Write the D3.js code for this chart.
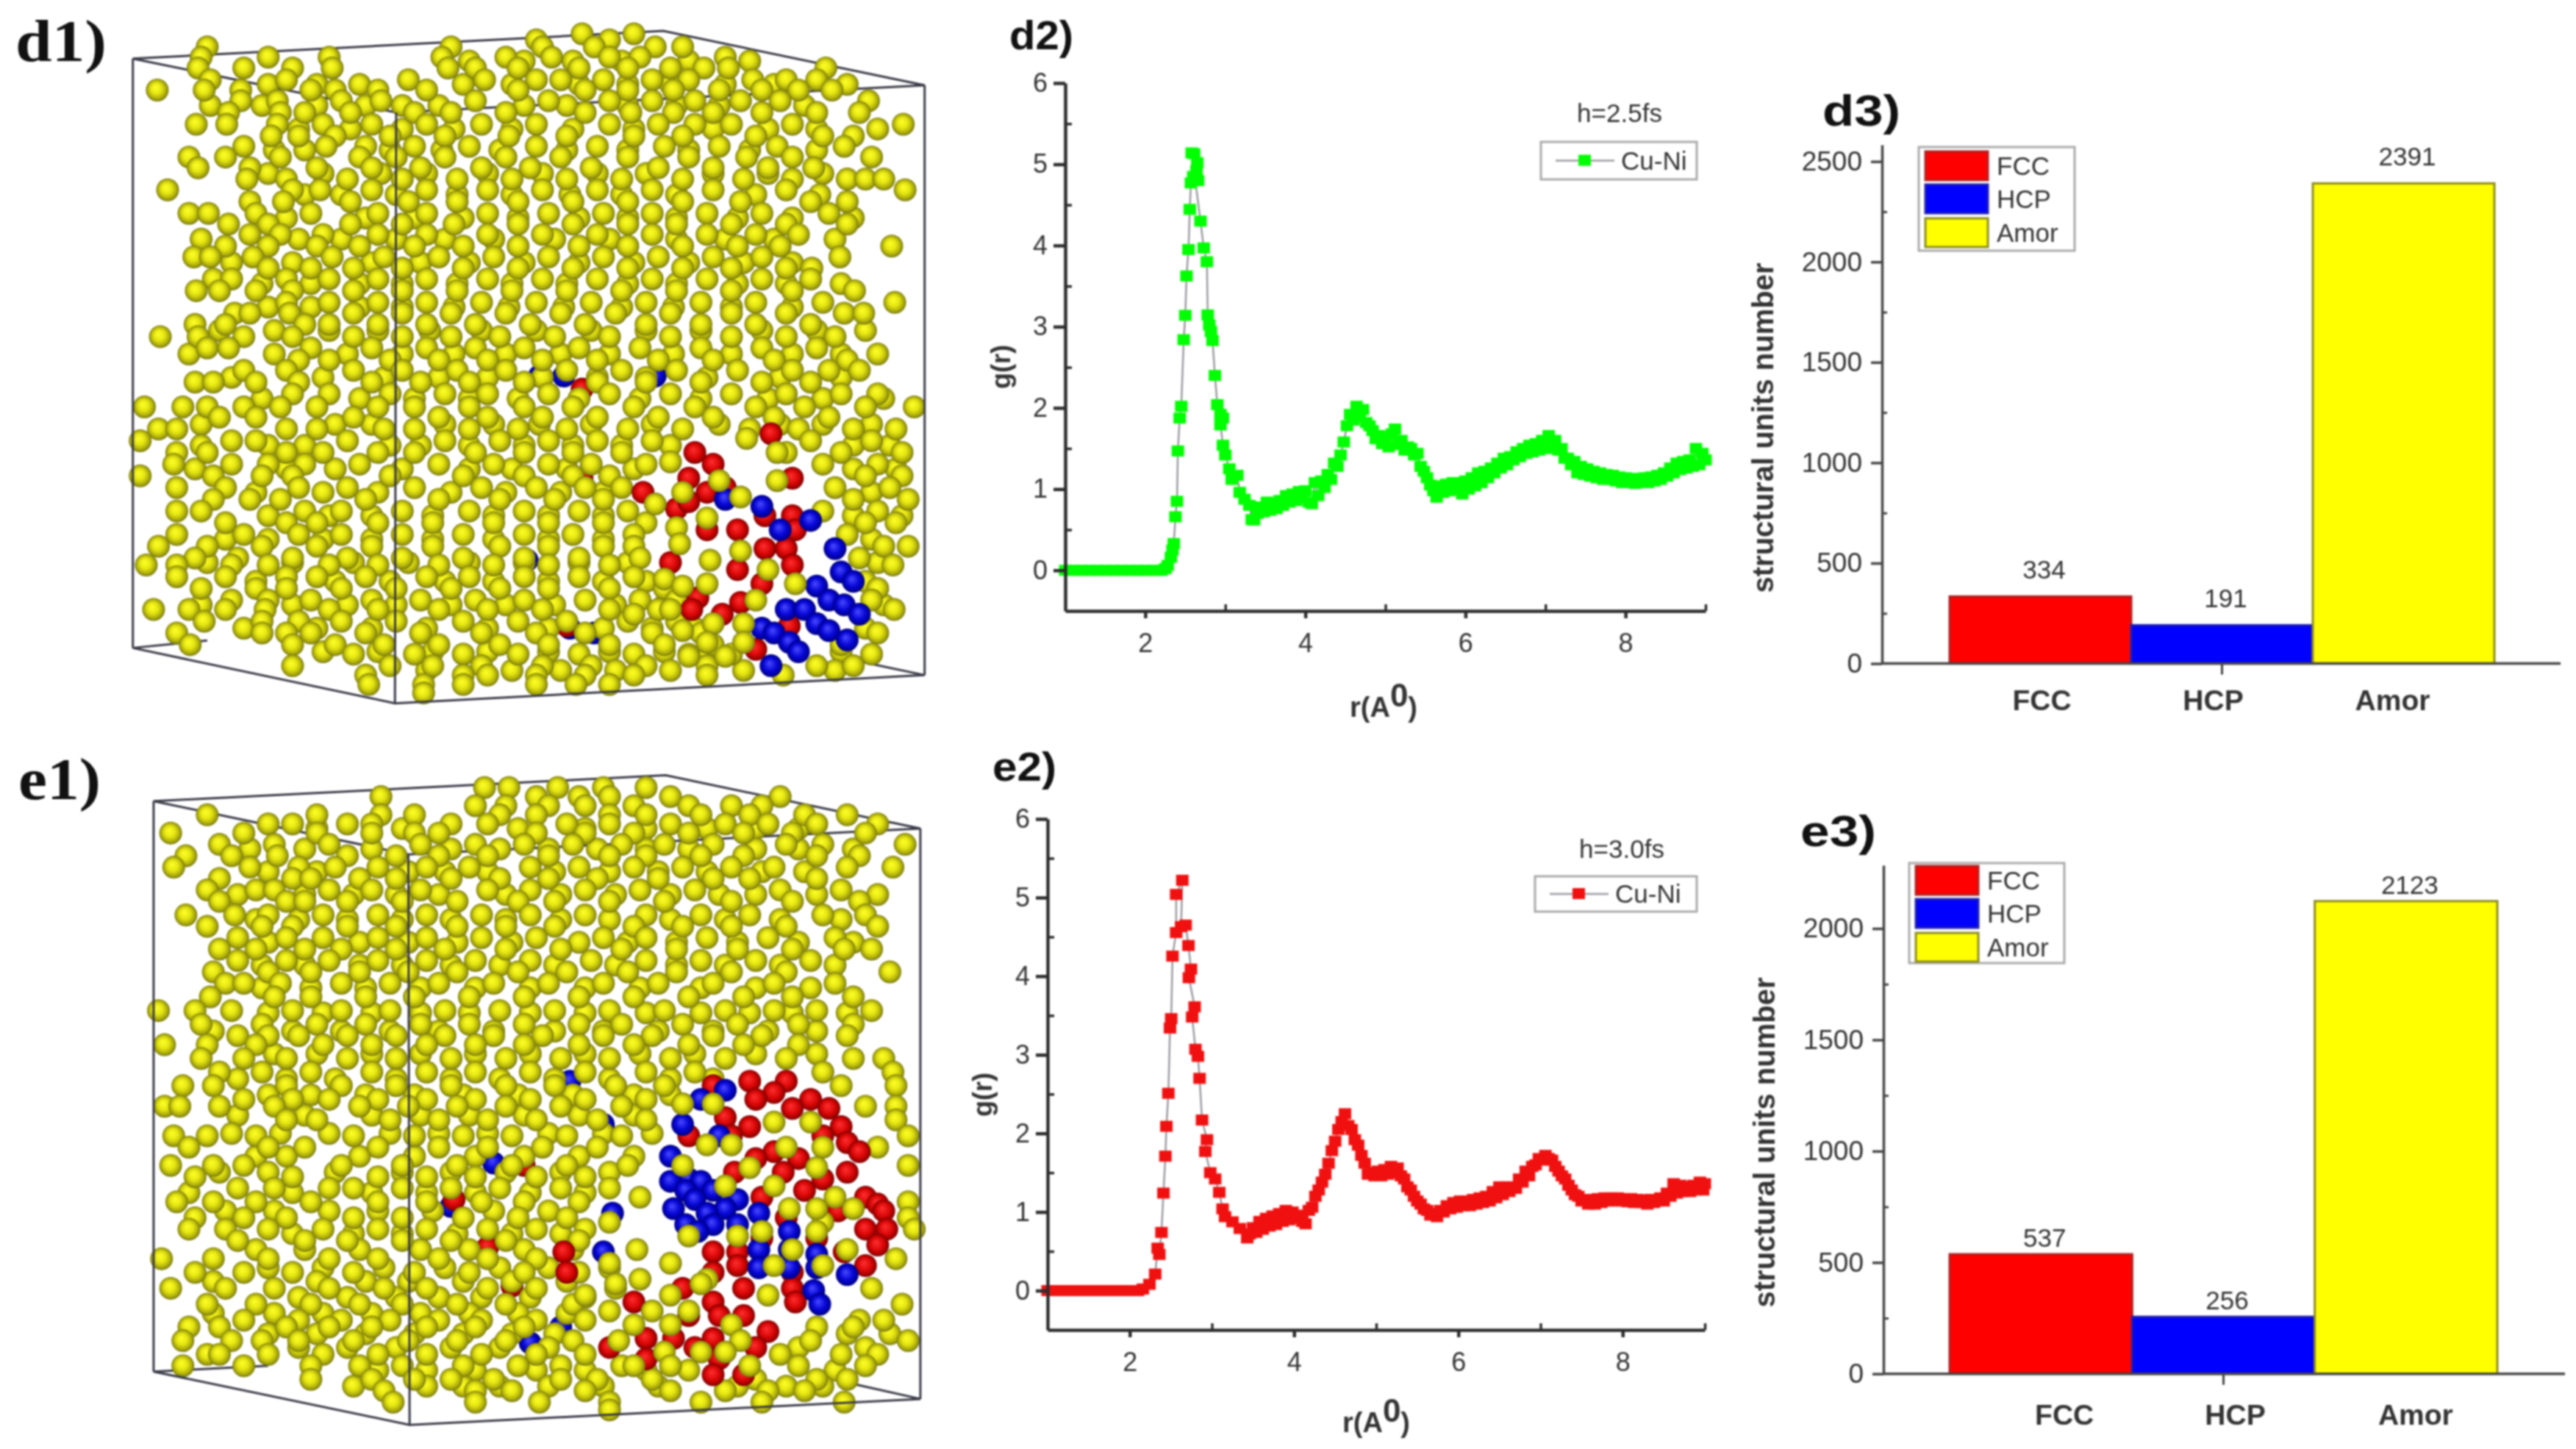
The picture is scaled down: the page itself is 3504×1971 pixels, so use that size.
<!DOCTYPE html>
<html>

<head>
    <style type="text/css">
        body { margin: 0; background: #fff; }
        svg { display: block; filter: blur(0.9px); }
        text { font-family: "Liberation Sans", Arial, sans-serif; fill: #333; }
    </style>
</head>

<body>
    <div id="canvas"></div>

    <script type="text/javascript" src="https://cdnjs.cloudflare.com/ajax/libs/d3/7.8.5/d3.min.js"></script>
    <script type="text/javascript">
        // bar panels
        var categories = ['FCC', 'HCP', 'Amor'];
        var countsD3 = [334, 191, 2391];
        var countsE3 = [537, 256, 2123];
        var barColors = ['#ff0000', '#0000ff', '#ffff00'];
        var barStrokes = ['#b02020', '#2020b0', '#8c8c20'];

        // g(r) panels, [r, g]
        var grD2 = [[1,0],[1.1,0],[1.2,0],[1.3,0],[1.4,0],[1.5,0],[1.6,0],[1.7,0],[1.8,0],[1.9,0],[2,0],[2.1,0],[2.2,0],[2.25,.02],[2.28,.06],[2.32,.16],[2.34,.25],[2.356,.33],[2.377,.66],[2.396,.85],[2.407,1.47],[2.43,1.875],[2.45,2.02],[2.48,2.84],[2.5,3.14],[2.515,3.625],[2.54,3.95],[2.556,4.445],[2.57,4.77],[2.6,4.85],[2.62,4.83],[2.66,4.8],[2.64,4.92],[2.65,5.02],[2.61,5.13],[2.58,5.14],[2.69,4.3],[2.73,3.97],[2.77,3.8],[2.78,3.145],[2.8,3.02],[2.82,2.94],[2.84,2.83],[2.87,2.4],[2.9,2.04],[2.94,1.92],[2.97,1.875],[2.94,1.79],[2.97,1.54],[3,1.42],[3.05,1.25],[3.08,1.12],[3.15,1.17],[3.18,.96],[3.24,.875],[3.3,.8],[3.33,.625],[3.36,.62],[3.4,.7],[3.44,.78],[3.48,.72],[3.52,.84],[3.56,.74],[3.6,.82],[3.64,.76],[3.68,.86],[3.72,.8],[3.76,.92],[3.8,.84],[3.84,.94],[3.88,.86],[3.92,.97],[3.96,.9],[4,.98],[4.04,.84],[4.08,.82],[4.12,1.08],[4.16,.92],[4.2,1.1],[4.24,1.02],[4.28,1.18],[4.32,1.12],[4.36,1.32],[4.4,1.28],[4.44,1.42],[4.48,1.58],[4.52,1.78],[4.56,1.92],[4.6,1.85],[4.64,2.02],[4.68,1.9],[4.72,1.98],[4.76,1.82],[4.8,1.78],[4.84,1.72],[4.88,1.62],[4.92,1.66],[4.96,1.56],[5,1.64],[5.04,1.52],[5.08,1.68],[5.12,1.74],[5.16,1.55],[5.2,1.6],[5.24,1.48],[5.28,1.52],[5.32,1.5],[5.36,1.42],[5.4,1.44],[5.44,1.28],[5.48,1.22],[5.52,1.14],[5.56,1.05],[5.6,.98],[5.64,.9],[5.68,1.04],[5.72,.96],[5.76,1.06],[5.8,.98],[5.84,1.08],[5.88,1],[5.92,1.08],[5.96,.94],[6,1.1],[6.04,1],[6.08,1.14],[6.12,1.04],[6.16,1.2],[6.2,1.08],[6.24,1.22],[6.28,1.14],[6.32,1.26],[6.36,1.2],[6.4,1.32],[6.44,1.26],[6.48,1.38],[6.52,1.3],[6.56,1.4],[6.6,1.36],[6.64,1.46],[6.68,1.4],[6.72,1.5],[6.76,1.44],[6.8,1.54],[6.84,1.46],[6.88,1.56],[6.92,1.48],[6.96,1.6],[7,1.5],[7.04,1.66],[7.08,1.52],[7.12,1.6],[7.16,1.48],[7.2,1.5],[7.24,1.38],[7.28,1.38],[7.32,1.3],[7.36,1.34],[7.4,1.2],[7.44,1.28],[7.48,1.18],[7.52,1.25],[7.56,1.16],[7.6,1.22],[7.64,1.14],[7.68,1.2],[7.72,1.12],[7.76,1.18],[7.8,1.12],[7.84,1.17],[7.88,1.1],[7.92,1.15],[7.96,1.08],[8,1.14],[8.04,1.08],[8.08,1.13],[8.12,1.07],[8.16,1.13],[8.2,1.08],[8.24,1.14],[8.28,1.08],[8.32,1.15],[8.36,1.1],[8.4,1.17],[8.44,1.12],[8.48,1.2],[8.52,1.16],[8.56,1.26],[8.6,1.2],[8.64,1.32],[8.68,1.24],[8.72,1.34],[8.76,1.26],[8.8,1.36],[8.84,1.28],[8.88,1.5],[8.92,1.3],[8.96,1.44],[9,1.36]];
        var grE2 = [[1,0],[1.1,0],[1.2,0],[1.3,0],[1.4,0],[1.5,0],[1.6,0],[1.7,0],[1.8,0],[1.9,0],[2,0],[2.1,0],[2.16,.02],[2.24,.08],[2.31,.21],[2.34,.54],[2.36,.46],[2.386,.74],[2.41,1.24],[2.434,1.71],[2.446,2.09],[2.47,2.51],[2.49,3.34],[2.505,3.46],[2.52,4.255],[2.565,4.555],[2.565,5.04],[2.64,5.22],[2.625,4.63],[2.68,4.65],[2.715,4.39],[2.745,4.09],[2.72,3.98],[2.79,3.61],[2.76,3.48],[2.8,3.07],[2.83,2.98],[2.85,2.7],[2.88,2.17],[2.94,1.92],[2.92,1.77],[2.98,1.5],[3.04,1.42],[3.09,1.25],[3.13,1.04],[3.16,.94],[3.25,.875],[3.34,.79],[3.43,.67],[3.46,.72],[3.5,.8],[3.54,.74],[3.58,.88],[3.62,.78],[3.66,.92],[3.7,.82],[3.74,.95],[3.78,.84],[3.82,.98],[3.86,.88],[3.9,1.02],[3.94,.9],[3.98,1],[4.02,.92],[4.06,.96],[4.1,.88],[4.14,.85],[4.18,1.02],[4.22,1.06],[4.26,1.2],[4.3,1.28],[4.34,1.38],[4.38,1.48],[4.42,1.62],[4.46,1.78],[4.5,1.9],[4.54,2.05],[4.58,2.15],[4.62,2.25],[4.66,2.1],[4.7,2.05],[4.74,1.92],[4.78,1.85],[4.82,1.72],[4.86,1.62],[4.9,1.48],[4.94,1.5],[4.98,1.46],[5.02,1.52],[5.06,1.46],[5.1,1.54],[5.14,1.48],[5.18,1.58],[5.22,1.5],[5.26,1.56],[5.3,1.46],[5.34,1.42],[5.38,1.32],[5.42,1.28],[5.46,1.2],[5.5,1.14],[5.54,1.1],[5.58,1.04],[5.62,1.02],[5.66,.96],[5.7,.98],[5.74,.94],[5.78,1.02],[5.82,1],[5.86,1.08],[5.9,1.04],[5.94,1.12],[5.98,1.06],[6.02,1.14],[6.06,1.08],[6.1,1.14],[6.14,1.08],[6.18,1.16],[6.22,1.1],[6.26,1.18],[6.3,1.12],[6.34,1.2],[6.38,1.14],[6.42,1.26],[6.46,1.18],[6.5,1.32],[6.54,1.22],[6.58,1.32],[6.62,1.26],[6.66,1.32],[6.7,1.3],[6.74,1.42],[6.78,1.38],[6.82,1.52],[6.86,1.46],[6.9,1.58],[6.94,1.6],[6.98,1.68],[7.02,1.66],[7.06,1.72],[7.1,1.68],[7.14,1.66],[7.18,1.58],[7.22,1.52],[7.26,1.46],[7.3,1.42],[7.34,1.34],[7.38,1.28],[7.42,1.22],[7.46,1.2],[7.5,1.14],[7.54,1.16],[7.58,1.1],[7.62,1.16],[7.66,1.1],[7.7,1.17],[7.74,1.12],[7.78,1.18],[7.82,1.14],[7.86,1.18],[7.9,1.14],[7.94,1.18],[7.98,1.14],[8.02,1.17],[8.06,1.13],[8.1,1.17],[8.14,1.12],[8.18,1.16],[8.22,1.12],[8.26,1.15],[8.3,1.1],[8.34,1.16],[8.38,1.12],[8.42,1.14],[8.46,1.18],[8.5,1.14],[8.54,1.24],[8.58,1.2],[8.62,1.36],[8.66,1.24],[8.7,1.34],[8.74,1.26],[8.78,1.32],[8.82,1.26],[8.86,1.34],[8.9,1.28],[8.94,1.38],[8.98,1.28],[9,1.36]];

        var yTicksGr = [0, 1, 2, 3, 4, 5, 6];
        var yMinorGr = [0.5, 1.5, 2.5, 3.5, 4.5, 5.5];
        var xTicksGr = [2, 4, 6, 8];
        var xMinorGr = [3, 5, 7, 9];
        var yTicksD3 = [0, 500, 1000, 1500, 2000, 2500];
        var yMinorD3 = [250, 750, 1250, 1750, 2250];
        var yTicksE3 = [0, 500, 1000, 1500, 2000];
        var yMinorE3 = [250, 750, 1250, 1750];

        // atoms of the two snapshots: [row, x, x, ...] in crop units (0-1568)
        var yellowD1 = [
            [72,955,1040],[85,880,1000],[100,340,740,890,975,1075,1120],[122,330,440,540,725,830,905,1000,1050,1190],[145,325,400,480,545,735,780,850,950,1030,1100,1155,1195,1355],[170,345,470,670,795,880,920,990,1070,1130,1235,1290,1340],
            [192,258,335,395,510,550,620,700,850,960,1030,1105,1180,1250,1310,1365],[215,395,455,560,625,780,900,1000,1070,1140,1215,1280,1425],[240,375,460,500,575,680,740,830,960,1035,1105,1170,1250,1340,1410],[265,322,372,455,530,610,700,790,880,1000,1080,1140,1200,1300,1482],[290,445,490,550,640,730,835,930,1040,1120,1240,1350,1400],
            [312,400,535,600,680,770,880,980,1090,1180,1275,1385],[335,310,370,460,590,650,730,830,920,1030,1130,1225,1300,1430],[358,325,410,520,610,690,790,870,970,1080,1170,1260,1335],[382,405,470,570,660,750,840,930,1020,1120,1220,1300,1390,1420,1450],[405,275,480,525,610,700,800,890,980,1070,1170,1290,1485],
            [430,410,465,575,670,750,850,940,1030,1120,1215,1330,1390],[455,310,342,420,510,620,700,800,900,990,1070,1160,1250,1360],[478,375,440,575,660,745,850,940,1030,1110,1200,1290,1390],[500,410,460,530,620,700,800,890,980,1070,1160,1240,1310],[525,370,440,520,590,680,760,850,950,1030,1120,1210,1280,1463],
            [548,318,345,415,545,630,720,810,900,990,1080,1170,1250,1378],[572,440,510,580,660,760,850,940,1030,1120,1200,1290,1332],[595,350,380,470,540,620,700,800,890,980,1070,1160,1250,1330],[620,322,360,420,480,580,660,750,840,930,1020,1110,1200,1300,1402],[645,470,540,620,700,790,880,970,1060,1150,1240,1350,1468],
            [668,385,410,475,580,660,740,830,920,1010,1100,1200,1290,1385,1417],[692,320,370,500,540,620,700,780,870,960,1060,1150,1240,1330],[718,263,325,400,480,580,660,740,820,910,1000,1100,1200,1290,1370],[742,340,375,510,610,700,780,860,950,1050,1150,1250,1340],[768,490,540,640,720,800,890,980,1080,1170,1270,1390],
            [790,400,470,580,660,750,830,930,1020,1110,1210,1300,1360,1410],[815,320,350,420,490,610,690,770,860,980,1060,1150,1250,1330],[840,480,540,640,730,800,900,1000,1100,1200,1290,1380,1440],[868,237,300,340,400,460,520,620,680,770,860,940,1040,1140,1240,1320,1420,1500],[890,360,420,580,720,800,890,980,1080,1170,1270,1360],
            [915,260,290,470,520,630,680,770,850,930,1030,1120,1230,1310,1400,1470],[940,230,380,420,570,730,820,900,980,1070,1330,1430],[965,290,340,470,530,620,680,780,860,940,1020,1290,1380,1480],[990,285,380,440,500,590,720,810,900,970,1060,1350,1440],[1015,230,350,430,480,640,760,860,940,1000,1420,1480],
            [1040,290,370,490,570,680,790,880,960,1020,1370,1460],[1065,350,410,460,600,720,820,910,990,1400,1490],[1090,290,330,500,560,660,770,860,950,1030,1350,1440],[1115,370,470,520,620,710,810,900,990,1060,1420,1470],[1140,290,400,490,560,660,760,860,940,1040,1390],
            [1165,260,340,430,520,610,710,820,900,990,1040,1490,1450],[1190,320,390,480,570,660,760,860,950,1050,1410],[1205,240,290,380,440,540,620,720,810,900,1000,1465],[1230,290,370,470,520,600,700,770,860,950,1040],[1255,330,420,470,560,650,740,820,900,1000,1090,1440],
            [1280,380,440,510,610,690,780,860,960,1050,1110,1430],[1300,252,310,370,435,540,620,720,800,890,1000,1080,1467],[1325,335,430,490,560,650,760,850,930,1030,1110],[1350,290,430,470,510,600,690,790,880,960,1070,1150,1440],[1375,312,480,550,630,720,820,900,1000,1090,1170,1380],
            [1395,580,680,760,850,950,1040,1130,1200,1430],[1420,480,640,710,790,890,970,1060,1160,1340,1400],[1440,600,760,800,880,960,1040,1160,1285],[1460,605,695,760,880,945,1000],[1478,695]
        ];
        var yellowD1b = [
            [130,770,860,940,1020,1130,1230],[180,440,520,590,760,840,950,1030,1100,1190,1270,1390],[225,345,430,520,600,660,720,860,930,1030,1110,1180,1320],[275,490,575,660,745,840,940,1040,1170,1260,1340,1440],[320,450,500,640,725,820,930,1030,1130,1230,1340],
            [370,440,530,625,700,800,890,980,1060,1170,1260,1350],[415,500,560,650,750,840,935,1020,1110,1240,1345],[465,470,600,680,760,850,950,1030,1110,1210,1300,1400],[510,330,490,560,650,730,810,910,1000,1110,1190,1270,1370],[560,380,480,610,690,770,860,950,1040,1130,1220,1300],
            [605,430,510,590,660,750,840,930,1030,1110,1210,1290,1380],[655,440,510,590,660,745,835,925,1020,1105,1200,1300],[705,360,450,540,620,705,790,880,970,1060,1150,1250,1340,1420],[755,310,450,570,660,745,830,920,1000,1105,1200,1300,1380,1440],[805,380,530,630,720,800,890,980,1060,1160,1280,1380],
            [850,430,590,680,770,850,950,1050,1150,1260,1350,1450],[905,330,550,610,730,810,885,970,1070,1180,1280,1350,1430],[950,330,440,500,640,690,770,860,940,1020,1100,1400,1460],[1000,320,470,550,660,770,840,930,1040,1400,1470],[1050,420,530,620,740,830,920,990,1430],
            [1100,440,540,610,710,810,900,990,1400,1480],[1150,370,440,530,610,710,810,900,990,1430],[1200,340,480,580,670,770,860,950,1030,1440],[1240,420,550,640,730,810,900,990,1060,1420],[1290,330,480,570,650,740,830,910,1010,1090,1450],
            [1340,400,520,610,700,800,900,990,1070,1140,1420],[1390,530,620,710,800,900,1000,1090,1160,1380],[1430,700,840,920,1010,1100,1220,1370]
        ];
        var buriedBlueD1 = [[802,885,925,1075],[1195,865],[1340,935],[1350,975]];
        var buriedRedD1 = [[830,955],[1020,955],[1335,930]];
        var redD1 = [[925,1265],[965,1140],[990,1170],[1020,1130,1300],[1050,1160,1055],[1085,1110],[1100,1255,1300],[1130,1210,1305,1160],[1170,1255,1290],[1200,1100],[1205,1300],[1215,1210],[1245,1250],[1275,1145],[1285,1215],[1300,1135],[1310,1185],[1335,1295],[1385,1240],[1070,1130],[1040,1190]];
        var blueD1 = [[1065,1190],[1080,1250],[1110,1330],[1130,1280],[1170,1370],[1220,1380],[1240,1400],[1250,1340],[1280,1360],[1290,1385],[1300,1290,1320],[1310,1410],[1330,1340],[1340,1250],[1345,1360],[1350,1270],[1365,1390],[1370,1295],[1390,1310],[1420,1265]];
        var frontD1 = [[935,1225],[965,1275],[985,1100],[1025,1180,1275],[1050,1120],[1060,1215],[1075,1075],[1105,1160],[1125,1110],[1160,1115],[1175,1215],[1195,1165],[1215,1260],[1235,1090],[1245,1160,1305],[1280,1240],[1300,1100],[1330,1220,1170],[1345,1120],[1370,1160,1220],[1400,1130,1190],[1250,1120],[1310,1040]];

        var yellowE1 = [
            [115,795,835,915,990,1060],[135,625,880,950,1000,1100,1280],[155,780,830,900,960,1040,1130,1200,1250],[175,340,520,625,680,820,880,1000,1060,1150,1230,1320,1390],[195,440,480,570,610,740,800,930,1000,1100,1190,1260,1340,1440],
            [215,280,400,520,610,680,720,880,960,1040,1130,1220,1300,1420],[240,360,450,540,690,780,860,940,1020,1090,1170,1290,1350,1485],[265,305,380,455,570,650,720,800,900,1000,1060,1150,1220,1340,1410],[290,285,410,490,550,620,700,770,870,950,1040,1120,1200,1270,1390,1465],[315,360,480,510,590,650,740,820,900,980,1080,1170,1230,1340],
            [340,340,420,450,540,610,690,800,870,960,1050,1140,1280,1380],[365,360,470,500,570,660,750,850,910,1000,1090,1200,1300,1410],[395,305,385,440,530,620,700,790,870,960,1060,1150,1230,1350,1420],[420,340,430,480,570,650,750,830,910,1040,1120,1200,1290,1440],[445,390,470,530,620,700,790,880,990,1060,1160,1260,1370],
            [470,360,420,500,560,650,730,830,920,1020,1110,1210,1300,1385,1430],[495,390,470,540,620,700,780,870,970,1060,1150,1240,1330],[520,350,440,510,590,670,750,850,930,1030,1110,1200,1290,1460],[545,370,400,460,560,640,720,810,900,990,1080,1170,1270,1370],[575,345,450,510,600,680,770,860,950,1040,1130,1220,1300,1400],
            [605,260,320,380,480,560,640,730,820,910,1000,1090,1190,1270,1340,1430],[635,330,430,520,600,690,770,860,950,1020,1120,1210,1310,1400],[660,390,440,490,570,650,730,810,890,990,1070,1170,1250,1390],[680,270,340,420,530,610,700,780,860,950,1040,1130,1220,1310],[710,330,400,470,570,650,740,830,920,1000,1100,1190,1290,1400,1450],
            [740,360,430,510,610,700,780,870,960,1060,1140,1350,1465],[770,300,350,470,560,650,740,830,910,1010,1090,1380,1470],[800,400,480,540,620,700,780,870,960,1060],[815,270,295,360,450,590,670,750,830,920,1020,1420,1470],[845,470,520,640,720,800,880,980,1060,1470],
            [880,285,340,420,580,680,760,840,930,1020,1490],[905,310,440,500,620,720,800,890,980,1440],[945,280,350,400,560,660,750,840,930,1030,1490],[970,320,480,620,700,780,880,960],[995,390,450,540,580,660,740,820,920,1000],
            [1025,290,350,420,510,620,700,790,860,950,1490],[1060,320,400,470,580,660,760,850,930,1490],[1085,310,370,440,530,620,700,800,880,960,1500],[1110,390,500,570,660,740,830,950],[1150,265,350,440,540,620,720,800,880,1470],
            [1180,320,400,480,580,680,770,860,950],[1215,280,370,450,540,630,700,800,880,1010,1430],[1250,340,420,510,590,660,750,830,940,1480],[1285,400,490,560,640,720,790,880,960,1410,1450],[1300,310,360,470,540,610,700,780,860,1340,1400],
            [1330,300,380,430,490,580,670,750,830,940,1330,1490],[1360,340,360,440,530,620,700,790,880,960,1280,1380,1440],[1385,300,400,510,590,660,760,850,920,1020,1310,1420],[1415,510,610,680,740,810,920,980,1070,1240,1340,1390],[1440,630,780,840,960,1100,1190,1260,1320],
            [1465,645,780,885,1000,1150,1250,1385],[1482,1000]
        ];
        var yellowE1b = [
            [205,520,660,850,960,1060,1160,1240,1310],[250,410,500,610,740,820,900,980,1060,1130,1240,1310,1400],[300,440,520,670,730,800,910,1000,1080,1160,1250,1320],[350,390,500,580,650,720,830,920,1010,1100,1180,1240,1340,1440],[405,420,490,570,660,740,830,920,1000,1100,1190,1280,1380],
            [455,440,590,670,750,840,950,1030,1110,1210,1310,1400],[505,430,500,590,660,740,820,910,1010,1110,1190,1280,1370],[555,430,510,600,690,780,870,960,1050,1150,1240,1330],[610,440,530,610,690,770,870,960,1060,1150,1230,1300,1390],[650,350,480,560,640,720,810,910,990,1080,1170,1260,1340],
            [700,450,520,610,690,780,870,960,1050,1140,1240,1340],[755,390,470,550,650,740,820,910,1000,1100,1170],[790,440,510,600,680,760,850,940,1040,1100],[835,390,500,610,690,770,860,950,1040],[875,380,460,540,640,720,800,900,990,1070],
            [925,420,470,590,680,780,860,950,1040],[960,360,440,550,660,740,830,920,1000],[1005,310,480,610,700,780,870,960],[1045,370,450,540,620,710,810,900],[1095,480,580,660,750,840,920],
            [1130,420,500,590,690,770,860,940],[1170,440,530,630,730,820,900,1000],[1200,350,520,600,670,760,840,930],[1235,490,570,650,720,790,870,960],[1270,350,450,530,610,690,770,850,930],
            [1315,440,520,600,680,760,840,910,1390,1460],[1345,490,570,650,740,820,900,1310,1420],[1395,620,700,780,880,960,1060,1130,1370],[1430,580,700,760,820,900,990,1080,1210,1290,1350]
        ];
        var buriedBlueE1 = [[760,935],[855,990],[940,810],[1035,740],[1300,920],[1335,870]];
        var buriedRedE1 = [[945,860],[1125,800],[1210,840],[1020,745]];
        var redE1 = [[760,1230,1290],[770,1170],[785,1270],[800,1240,1330],[820,1300,1360],[840,1190],[860,1380,1230],[880,1130,1350,1200],[895,1390],[915,1270,1410],[930,1310,1240],[960,1285,1390,1205],[975,1350],[1000,1320],[1015,1420,1250],[1030,1440],[1045,1375,1450],[1060,1290],[1085,1420,1455],[1105,1340,1250],[1120,1440],[1135,1385,925,1170,1210],[1165,1210,1420],[1180,1300,930,1170],[1215,1220,1120,1300],[1245,1040,1170,1305],[1275,1180,1130,1220],[1310,1260],[1325,1060,1105,1170],[1345,1000,1240,1140],[1370,1180,1060],[1405,1170,1220]];
        var blueE1 = [[780,1190],[800,1150],[855,1120],[880,1180],[925,1100],[975,1130],[980,1100,1150],[1000,1170,1125],[1020,1210,1140],[1040,1190,1105],[1050,1005,1245,1160],[1075,1125,1170,1210],[1090,1295,1145],[1130,1245,1295],[1135,990],[1140,1340],[1170,1245,1295,1340],[1185,1390],[1220,1335],[1250,1345]];
        var frontE1 = [[810,1170,1120],[850,1270,1330],[900,1160,1200],[905,1290,1350],[945,1120],[950,1230,1340],[990,1270,1190],[1015,1370,1050],[1040,1295],[1070,1350,1000],[1100,1130,1210],[1130,1045,1300,1390],[1165,1270,1350],[1195,1160,1050],[1230,960,1260,1100],[1265,1000,1130,1070],[1295,1040,1100,1200],[1330,1215,1015],[1355,1090,1190,1150],[1385,1100,1040,1230],[1205,1010,1150],[1090,1250,1340],[1160,1100,1000],[1040,1340,1400]];

        // box corners in the same crop units
        var boxD1 = { back: [[218,125],[1088,66],[1517,182]], backLow: [[218,1382],[340,1366]], top: [[218,125],[650,240],[1517,182]], left: [[218,125],[218,1382]], right: [[1517,182],[1517,1440]], front: [[650,240],[648,1500]], low: [[218,1382],[648,1500],[1517,1440]], lowBack: [[1517,1440],[1400,1408]] };
        var boxE1 = { back: [[252,145],[1092,88],[1510,205]], backLow: [[252,1398],[440,1385]], top: [[252,145],[670,262],[1510,205]], left: [[252,145],[252,1398]], right: [[1510,205],[1510,1458]], front: [[670,262],[672,1515]], low: [[252,1398],[672,1515],[1510,1458]], lowBack: [[1510,1458],[1400,1425]] };

        var svg = d3.select('#canvas').append('svg')
            .attr('width', 3504)
            .attr('height', 1971);

        svg.append('rect').attr('width', 3504).attr('height', 1971).attr('fill', '#fff');

        var defs = svg.append('defs');
        var addBall = function (id, stops) {
            var grad = defs.append('radialGradient').attr('id', id)
                .attr('cx', '50%').attr('cy', '50%').attr('r', '52%')
                .attr('fx', '42%').attr('fy', '38%');
            stops.forEach(function (s) {
                grad.append('stop').attr('offset', s[0]).attr('stop-color', s[1]);
            });
        };
        addBall('ballY', [['0%', '#ffff28'], ['45%', '#e6e612'], ['78%', '#acac0c'], ['100%', '#6c6c0c']]);
        addBall('ballR', [['0%', '#ff3030'], ['55%', '#dc0808'], ['85%', '#a00000'], ['100%', '#600000']]);
        addBall('ballB', [['0%', '#4a4aff'], ['55%', '#0808d8'], ['85%', '#0000a0'], ['100%', '#000060']]);

        var flatten = function (rows) {
            var pts = [];
            rows.forEach(function (row) {
                row.slice(1).forEach(function (x) { pts.push([x, row[0]]); });
            });
            return pts;
        };

        var drawSnapshot = function (opts) {
            var x = d3.scaleLinear().domain([0, 1568]).range([0, 1300]);
            var y = d3.scaleLinear().domain([0, 1568]).range(opts.yRange);
            var line = d3.line().x(function (d) { return x(d[0]); }).y(function (d) { return y(d[1]); });
            var g = svg.append('g');
            var edges = function (keys) {
                keys.forEach(function (k) {
                    g.append('path').attr('d', line(opts.box[k]))
                        .attr('fill', 'none').attr('stroke', '#3a3a48').attr('stroke-width', 3);
                });
            };
            var balls = function (rows, fill) {
                g.selectAll(null).data(flatten(rows)).enter().append('circle')
                    .attr('cx', function (d) { return x(d[0]); })
                    .attr('cy', function (d) { return y(d[1]); })
                    .attr('r', 15.5)
                    .attr('fill', fill);
            };
            edges(['back', 'backLow', 'lowBack', 'top']);
            balls(opts.buriedBlue, 'url(#ballB)');
            balls(opts.buriedRed, 'url(#ballR)');
            balls(opts.yellowBack, 'url(#ballY)');
            balls(opts.yellow, 'url(#ballY)');
            balls(opts.red, 'url(#ballR)');
            balls(opts.blue, 'url(#ballB)');
            balls(opts.front, 'url(#ballY)');
            edges(['left', 'right', 'front', 'low']);
        };

        var styleAxis = function (sel, width, color) {
            sel.selectAll('path, line').attr('stroke', color).attr('stroke-width', width);
            return sel;
        };

        var drawGr = function (opts) {
            var x = d3.scaleLinear().domain([1, 9]).range(opts.xRange);
            var y = d3.scaleLinear().domain([-0.5, 6]).range(opts.yRange);
            var bottom = opts.yRange[0], left = opts.xRange[0];
            var g = svg.append('g');

            g.append('path')
                .attr('d', d3.line().x(function (d) { return x(d[0]); }).y(function (d) { return y(d[1]); })(opts.data))
                .attr('fill', 'none').attr('stroke', '#9a9aa0').attr('stroke-width', 2.5);
            g.selectAll(null).data(opts.data).enter().append('rect')
                .attr('x', function (d) { return x(d[0]) - 8.5; })
                .attr('y', function (d) { return y(d[1]) - 7.5; })
                .attr('width', 17).attr('height', 15)
                .attr('fill', opts.color);

            var ax = g.append('g').attr('transform', 'translate(0,' + bottom + ')')
                .call(d3.axisBottom(x).tickValues(xTicksGr).tickSize(10).tickSizeOuter(0).tickPadding(20).tickFormat(d3.format('d')));
            styleAxis(ax, 4.5, '#2c2c2c');
            var axMinor = g.append('g').attr('transform', 'translate(0,' + bottom + ')')
                .call(d3.axisTop(x).tickValues(xMinorGr).tickSize(9).tickFormat(''));
            axMinor.select('.domain').remove();
            styleAxis(axMinor, 3.5, '#2c2c2c');
            var ay = g.append('g').attr('transform', 'translate(' + left + ',0)')
                .call(d3.axisLeft(y).tickValues(yTicksGr).tickSize(16).tickSizeOuter(0).tickPadding(8).tickFormat(d3.format('d')));
            styleAxis(ay, 4.5, '#2c2c2c');
            var ayMinor = g.append('g').attr('transform', 'translate(' + left + ',0)')
                .call(d3.axisRight(y).tickValues(yMinorGr).tickSize(9).tickFormat(''));
            ayMinor.select('.domain').remove();
            styleAxis(ayMinor, 3.5, '#2c2c2c');
            g.selectAll('.tick text').attr('font-size', 36).style('font-family', '"Liberation Sans", Arial, sans-serif').attr('fill', '#333');

            g.append('text')
                .attr('transform', 'translate(' + opts.yTitle[0] + ',' + opts.yTitle[1] + ') rotate(-90)')
                .attr('text-anchor', 'middle').attr('dy', '.35em')
                .attr('font-size', 36).attr('font-weight', 'bold').text('g(r)');
            var xt = g.append('text').attr('x', opts.xTitle[0]).attr('y', opts.xTitle[1])
                .attr('text-anchor', 'middle').attr('font-size', 38).attr('font-weight', 'bold');
            xt.append('tspan').text('r(A');
            xt.append('tspan').attr('dy', -14).attr('font-size', 44).text('0');
            xt.append('tspan').attr('dy', 14).text(')');

            g.append('text').attr('x', opts.note[0]).attr('y', opts.note[1]).attr('dy', '.35em')
                .attr('text-anchor', 'middle').attr('font-size', 35).text(opts.label);

            var lb = opts.legend;
            g.append('rect').attr('x', lb[0]).attr('y', lb[1]).attr('width', lb[2]).attr('height', lb[3])
                .attr('fill', '#fff').attr('stroke', '#aaa').attr('stroke-width', 3);
            var midY = lb[1] + lb[3] / 2;
            g.append('line').attr('x1', lb[0] + 20).attr('x2', lb[0] + 100).attr('y1', midY).attr('y2', midY)
                .attr('stroke', '#9a9aa0').attr('stroke-width', 2.5);
            g.append('rect').attr('x', lb[0] + 51).attr('y', midY - 8).attr('width', 17).attr('height', 15).attr('fill', opts.color);
            g.append('text').attr('x', lb[0] + 109).attr('y', midY).attr('dy', '.35em')
                .attr('font-size', 35).text('Cu-Ni');
        };

        var drawBars = function (opts) {
            var x = d3.scaleBand().domain(categories).range(opts.barRange);
            var y = d3.scaleLinear().domain([0, opts.yMax]).range(opts.yRange);
            var g = svg.append('g');
            var base = opts.yRange[0], left = opts.axisX;

            g.selectAll(null).data(opts.values).enter().append('rect')
                .attr('x', function (d, i) { return x(categories[i]); })
                .attr('y', function (d) { return y(d); })
                .attr('width', x.bandwidth())
                .attr('height', function (d) { return y(0) - y(d); })
                .attr('fill', function (d, i) { return barColors[i]; })
                .attr('stroke', function (d, i) { return barStrokes[i]; })
                .attr('stroke-width', 3);

            g.selectAll(null).data(opts.values).enter().append('text')
                .attr('x', function (d, i) { return x(categories[i]) + x.bandwidth() / 2 + 5; })
                .attr('y', function (d) { return y(d) - opts.valueGap; })
                .attr('text-anchor', 'middle').attr('font-size', 35)
                .text(function (d) { return d; });

            g.append('line').attr('x1', left).attr('x2', opts.axisEnd).attr('y1', base).attr('y2', base)
                .attr('stroke', '#444').attr('stroke-width', 3.5);
            var ax = g.append('g').attr('transform', 'translate(0,' + base + ')')
                .call(d3.axisBottom(x).tickValues(['HCP']).tickSize(15).tickSizeOuter(0).tickFormat(''));
            ax.select('.domain').remove();
            styleAxis(ax, 3, '#444');
            g.selectAll(null).data(categories).enter().append('text')
                .attr('x', function (d, i) { return x(d) + x.bandwidth() / 2 + opts.labelShift[i]; })
                .attr('y', opts.labelY).attr('dy', '.35em')
                .attr('text-anchor', 'middle').attr('font-size', 39).attr('font-weight', 'bold')
                .text(function (d) { return d; });

            var ay = g.append('g').attr('transform', 'translate(' + left + ',0)')
                .call(d3.axisLeft(y).tickValues(opts.ticks).tickSize(15).tickSizeOuter(0).tickPadding(12));
            styleAxis(ay, 3.5, '#444');
            ay.selectAll('text').attr('font-size', 37).style('font-family', '"Liberation Sans", Arial, sans-serif').attr('fill', '#333');
            ay.selectAll('text').text(function (d) { return d; });
            var ayMinor = g.append('g').attr('transform', 'translate(' + left + ',0)')
                .call(d3.axisRight(y).tickValues(opts.minor).tickSize(7).tickFormat(''));
            ayMinor.select('.domain').remove();
            styleAxis(ayMinor, 3, '#444');

            g.append('text')
                .attr('transform', 'translate(' + opts.yTitle[0] + ',' + opts.yTitle[1] + ') rotate(-90)')
                .attr('text-anchor', 'middle').attr('dy', '.35em')
                .attr('font-size', 40).attr('font-weight', 'bold').text('structural units number');

            var lb = opts.legend;
            g.append('rect').attr('x', lb[0]).attr('y', lb[1]).attr('width', lb[2]).attr('height', lb[3])
                .attr('fill', '#fff').attr('stroke', '#aaa').attr('stroke-width', 3);
            opts.swatches.forEach(function (top, i) {
                g.append('rect').attr('x', lb[0] + 9).attr('y', top).attr('width', 85).attr('height', 39)
                    .attr('fill', barColors[i]).attr('stroke', barStrokes[i]).attr('stroke-width', 3);
                g.append('text').attr('x', lb[0] + 106).attr('y', top + 20).attr('dy', '.35em')
                    .attr('font-size', 35).text(categories[i]);
            });
        };

        var panelLabel = function (txt, x, y, width, size, serif) {
            svg.append('text').attr('x', x).attr('y', y)
                .attr('font-size', size).attr('font-weight', 'bold')
                .attr('textLength', width).attr('lengthAdjust', 'spacingAndGlyphs')
                .style('font-family', serif ? '"Liberation Serif", serif' : '"Liberation Sans", sans-serif')
                .style('fill', '#111')
                .text(txt);
        };

        drawSnapshot({ yRange: [0, 1000], box: boxD1, yellowBack: yellowD1b, yellow: yellowD1, buriedBlue: buriedBlueD1, buriedRed: buriedRedD1, red: redD1, blue: blueD1, front: frontD1 });
        drawSnapshot({ yRange: [1000, 1971], box: boxE1, yellowBack: yellowE1b, yellow: yellowE1, buriedBlue: buriedBlueE1, buriedRed: buriedRedE1, red: redE1, blue: blueE1, front: frontE1 });

        drawGr({
            data: grD2, color: '#00ff00', label: 'h=2.5fs',
            xRange: [1449, 2320], yRange: [831, 113],
            yTitle: [1361, 499], xTitle: [1882, 975], note: [2203, 154], legend: [2096, 193, 212, 51]
        });
        drawGr({
            data: grE2, color: '#f01010', label: 'h=3.0fs',
            xRange: [1425, 2319], yRange: [1809, 1114],
            yTitle: [1336, 1489], xTitle: [1872, 1948], note: [2206, 1155], legend: [2088, 1192, 220, 48]
        });

        drawBars({
            values: countsD3, yMax: 2583, yRange: [902.6, 197], barRange: [2652, 3393],
            axisX: 2560, axisEnd: 3483, ticks: yTicksD3, minor: yMinorD3,
            labelShift: [2, -12, -15], labelY: 952, valueGap: 24,
            yTitle: [2398, 582], legend: [2610, 200, 212, 141], swatches: [206, 251, 297]
        });
        drawBars({
            values: countsE3, yMax: 2284, yRange: [1868.7, 1177], barRange: [2652, 3397],
            axisX: 2562, axisEnd: 3489, ticks: yTicksE3, minor: yMinorE3,
            labelShift: [32, 16, 13], labelY: 1924, valueGap: 10,
            yTitle: [2400, 1554], legend: [2597, 1174, 211, 136], swatches: [1178, 1223, 1269]
        });

        panelLabel('d1)', 21, 83, 124, 80, true);
        panelLabel('e1)', 25, 1087, 112, 80, true);
        panelLabel('d2)', 1373, 67, 87, 56, false);
        panelLabel('e2)', 1350, 1062, 87, 56, false);
        panelLabel('d3)', 2479, 171, 106, 60, false);
        panelLabel('e3)', 2449, 1151, 103, 60, false);
    </script>
</body>

</html>
